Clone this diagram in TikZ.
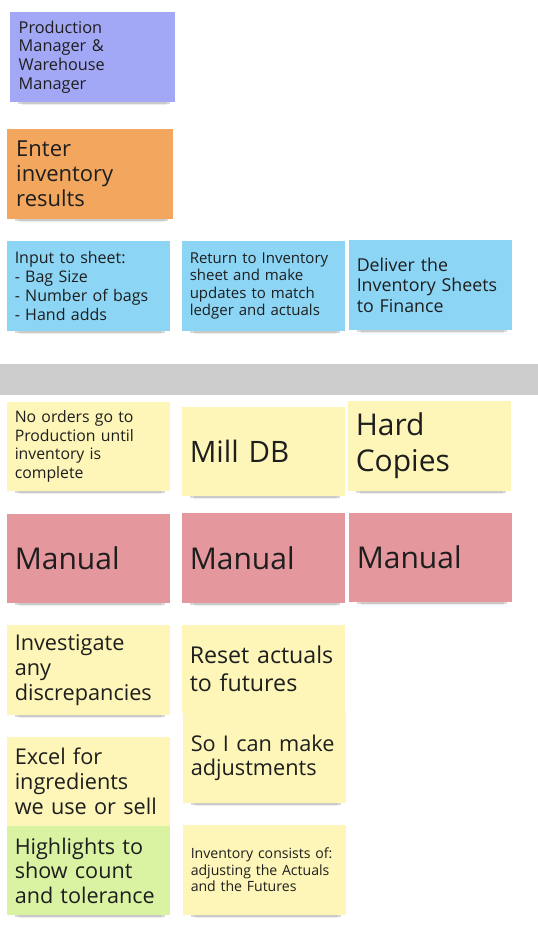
\documentclass[tikz,border=0pt]{standalone}
\usepackage{fontspec}
\setmainfont{Open Sans}
\usepackage{xcolor}
\usepackage{tikz}
\usetikzlibrary{shadows}

\definecolor{notePurple}{HTML}{A3A8F6}
\definecolor{noteOrange}{HTML}{F2A65E}
\definecolor{noteBlue}{HTML}{8CD5F4}
\definecolor{noteYellow}{HTML}{FDF6B8}
\definecolor{noteRed}{HTML}{E4979D}
\definecolor{noteGreen}{HTML}{D9F3A2}
\definecolor{laneGray}{HTML}{CCCCCC}
\definecolor{inkDark}{HTML}{1E1E1E}

\newcommand\notefont[2]{\fontsize{#1}{#2}\selectfont}
\hyphenpenalty=10000
\exhyphenpenalty=10000

\begin{document}
\begin{tikzpicture}[
  x=1pt, y=-1pt,
  note/.style={anchor=north west, minimum width=163pt, minimum height=90pt,
    text width=147.5pt, inner xsep=7.75pt, inner ysep=0pt, outer sep=0pt,
    align=left, text=inkDark,
    general shadow={fill=black, opacity=0.07, shadow xshift=2pt,
      shadow yshift=-10pt, shadow scale=0.88},
    general shadow={fill=black, opacity=0.15, shadow xshift=2pt,
      shadow yshift=-6pt, shadow scale=0.92}},
  purpleNote/.style={note, fill=notePurple},
  orangeNote/.style={note, fill=noteOrange},
  blueNote/.style={note, fill=noteBlue},
  yellowNote/.style={note, fill=noteYellow},
  redNote/.style={note, fill=noteRed},
  greenNote/.style={note, fill=noteGreen}
]
  \useasboundingbox (0,0) rectangle (538,930);

  % Roles and activity
  \node[purpleNote, minimum width=165pt, font=\notefont{16.3}{18.7}] (roles) at (10,12)
    {Production\\Manager \&\\Warehouse\\Manager};
  \node[orangeNote, minimum width=166pt, font=\notefont{22}{25}] (enter) at (7,129)
    {Enter\\inventory\\results};

  % Steps
  \node[blueNote, font=\notefont{16}{18.8}] (input) at (7,241)
    {Input to sheet:\\- Bag Size\\- Number of bags\\- Hand adds};
  \node[blueNote, font=\notefont{15}{17.6}] (update) at (182,241)
    {Return to Inventory\\sheet and make\\updates to match\\ledger and actuals};
  \node[blueNote, minimum width=162pt, font=\notefont{17.8}{20.6}] (deliver) at (349,240)
    {Deliver the\\Inventory Sheets\\to Finance};

  % Lane divider
  \fill[laneGray] (0,364) rectangle (538,395);

  % Notes and systems
  \node[yellowNote, minimum width=162pt, minimum height=89pt, font=\notefont{15.8}{18.7}] (orders) at (7,402)
    {No orders go to\\Production until\\inventory is\\complete};
  \node[yellowNote, minimum width=162pt, minimum height=89pt, font=\notefont{29.5}{36}] (milldb) at (182,407)
    {Mill DB};
  \node[yellowNote, minimum width=163pt, font=\notefont{30}{36}] (copies) at (348,401)
    {Hard\\Copies};

  % Manual
  \node[redNote, minimum width=162pt, minimum height=89pt, font=\notefont{30}{36}] (manualA) at (7,514)
    {Manual};
  \node[redNote, font=\notefont{30}{36}] (manualB) at (182,513)
    {Manual};
  \node[redNote, minimum width=162pt, minimum height=89pt, font=\notefont{30}{36}] (manualC) at (349,513)
    {Manual};

  % Pain points
  \node[yellowNote, font=\notefont{21.7}{24.8}] (investigate) at (7,625)
    {Investigate\\any\\discrepancies};
  \node[yellowNote, minimum width=162pt, minimum height=88pt, font=\notefont{23.2}{27.8}] (reset) at (182,625)
    {Reset actuals\\to futures};
  \node[yellowNote, minimum width=162pt, font=\notefont{21.7}{24.5}] (adjust) at (183,713)
    {So I can make\\adjustments};
  \node[yellowNote, minimum width=162pt, minimum height=89pt, font=\notefont{21.7}{24.8}] (excel) at (7,737)
    {Excel for\\ingredients\\we use or sell};
  \node[greenNote, minimum width=162pt, minimum height=89pt, font=\notefont{21.6}{24.4}] (highlights) at (7,826)
    {Highlights to\\show count\\and tolerance};
  \node[yellowNote, minimum width=162pt, font=\notefont{14.1}{16.4}] (consists) at (183,825)
    {Inventory consists of:\\adjusting the Actuals\\and the Futures};

\end{tikzpicture}
\end{document}
